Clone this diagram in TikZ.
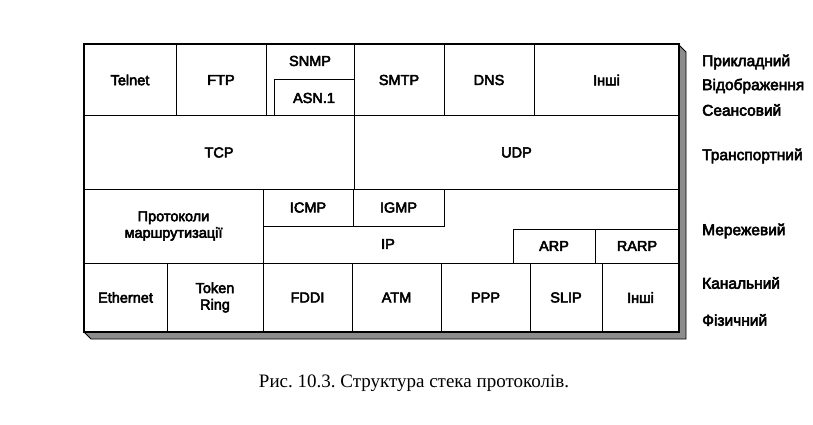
\documentclass[tikz,border=0pt]{standalone}
\usepackage{fontspec}
\setmainfont{Liberation Serif}
\newfontfamily\lblfont[FakeBold=3.5]{Liberation Sans}
\frenchspacing
\begin{document}
\begin{tikzpicture}[x=1pt,y=-1pt,
  cellbox/.style={draw=black, line width=1pt, inner sep=0pt, outer sep=0pt,
    anchor=north west, align=center, font=\lblfont\fontsize{14.5}{16.5}\selectfont},
  plainlbl/.style={inner sep=0pt, align=center, font=\lblfont\fontsize{14.5}{16.5}\selectfont},
  layerlbl/.style={inner sep=0pt, anchor=west, font=\lblfont\fontsize{15.5}{17}\selectfont},
  shadowfill/.style={fill=black!45, draw=black, line width=0.8pt},
  framestyle/.style={draw=black, line width=1.5pt}]
\useasboundingbox (0,0) rectangle (813,425);
% shadow
\path[shadowfill] (679,45) -- (686,52) -- (686,339) -- (91,339) -- (84,332) -- (679,332) -- cycle;
\fill[white] (84,44) rectangle (679,332);
% row 1
\node[cellbox, minimum width=92pt, minimum height=72pt] (telnet) at (84,44) {Telnet};
\node[cellbox, minimum width=90pt, minimum height=72pt] (ftp) at (176,44) {FTP};
\node[cellbox, minimum width=88pt, minimum height=72pt] (snmpbox) at (266,44) {};
\node[plainlbl] (snmp) at (310,61) {SNMP};
\node[cellbox, minimum width=80pt, minimum height=36pt] (asn) at (274,80) {ASN.1};
\node[cellbox, minimum width=90pt, minimum height=72pt] (smtp) at (354,44) {SMTP};
\node[cellbox, minimum width=90pt, minimum height=72pt] (dns) at (444,44) {DNS};
\node[cellbox, minimum width=145pt, minimum height=72pt] (otherA) at (534,44) {Інші};
% row 2
\node[cellbox, minimum width=270pt, minimum height=73pt] (tcp) at (84,116) {TCP};
\node[cellbox, minimum width=325pt, minimum height=73pt] (udp) at (354,116) {UDP};
% row 3
\node[cellbox, minimum width=179pt, minimum height=74pt] (routing) at (84,189) {Протоколи\\маршрутизації};
\node[cellbox, minimum width=90pt, minimum height=37pt] (icmp) at (263,189) {ICMP};
\node[cellbox, minimum width=91pt, minimum height=37pt] (igmp) at (353,189) {IGMP};
\draw[line width=1pt] (263,226) -- (444,226) -- (444,189) -- (679,189) -- (679,263) -- (263,263) -- cycle;
\node[plainlbl] (ip) at (388,244) {IP};
\node[cellbox, minimum width=82pt, minimum height=34pt] (arp) at (513,229) {ARP};
\node[cellbox, minimum width=84pt, minimum height=34pt] (rarp) at (595,229) {RARP};
% row 4
\node[cellbox, minimum width=83pt, minimum height=69pt] (ethernet) at (84,263) {Ethernet};
\node[cellbox, minimum width=96pt, minimum height=69pt] (token) at (167,263) {Token\\Ring};
\node[cellbox, minimum width=89pt, minimum height=69pt] (fddi) at (263,263) {FDDI};
\node[cellbox, minimum width=89pt, minimum height=69pt] (atm) at (352,263) {ATM};
\node[cellbox, minimum width=89pt, minimum height=69pt] (ppp) at (441,263) {PPP};
\node[cellbox, minimum width=72pt, minimum height=69pt] (slip) at (530,263) {SLIP};
\node[cellbox, minimum width=77pt, minimum height=69pt] (otherB) at (602,263) {Інші};
% outer frame
\draw[framestyle] (84,44) rectangle (679,332);
% layer names
\node[layerlbl] (l1) at (702,62) {Прикладний};
\node[layerlbl] (l2) at (702,86) {Відображення};
\node[layerlbl] (l3) at (702,110) {Сеансовий};
\node[layerlbl] (l4) at (702,156) {Транспортний};
\node[layerlbl] (l5) at (702,231) {Мережевий};
\node[layerlbl] (l6) at (702,283) {Канальний};
\node[layerlbl] (l7) at (702,320) {Фізичний};
% caption
\node[inner sep=0pt, font=\fontsize{19}{21}\selectfont] (caption) at (414,383) {Рис. 10.3. Структура стека протоколів.};
\end{tikzpicture}
\end{document}
